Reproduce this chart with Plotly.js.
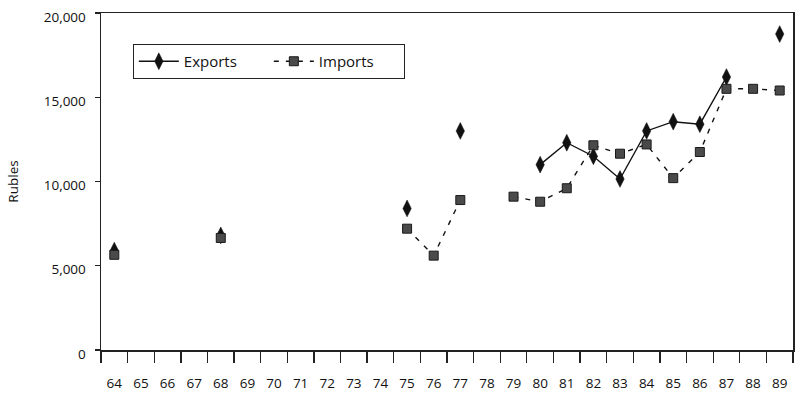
<!DOCTYPE html>
<html>
<head>
<meta charset="utf-8">
<script src="https://cdn.plot.ly/plotly-3.0.1.min.js"></script>
<style>html,body{margin:0;padding:0;background:#fff;}#chart{width:800px;height:398px;}</style>
</head>
<body>
<div id="chart"></div>
<script>
const years = ["64","65","66","67","68","69","70","71","72","73","74","75","76","77","78","79","80","81","82","83","84","85","86","87","88","89"];
const exportsVals = [5900,null,null,null,6800,null,null,null,null,null,null,8400,null,13000,null,null,11000,12300,11500,10150,13000,13550,13400,16200,null,18750];
const importsVals = [5650,null,null,null,6650,null,null,null,null,null,null,7200,5600,8900,null,9100,8800,9600,12150,11650,12200,10200,11750,15500,15500,15400];
const yTickVals = [0,5000,10000,15000,20000];
const yTickText = ["0","5,000","10,000","15,000","20,000"];

const font = "Open Sans, Noto Sans, sans-serif";

const traces = [
  {
    x: years, y: exportsVals, name: "Exports", type: "scatter", mode: "lines+markers",
    connectgaps: false,
    line: {color: "#111", width: 1.4},
    marker: {symbol: "diamond-tall", size: 12, color: "#111", line: {color: "#111", width: 0.5}}
  },
  {
    x: years, y: importsVals, name: "Imports", type: "scatter", mode: "lines+markers",
    connectgaps: false,
    line: {color: "#111", width: 1.4, dash: "5px,7px"},
    marker: {symbol: "square", size: 9, color: "#4a4a4a", line: {color: "#1a1a1a", width: 1}}
  }
];

const layout = {
  width: 800, height: 398,
  margin: {l: 101, r: 7, t: 13, b: 48},
  paper_bgcolor: "#fff", plot_bgcolor: "#fff",
  font: {family: font, size: 13.5, color: "#111"},
  showlegend: true,
  legend: {
    orientation: "h", x: 0.046, y: 0.908, xanchor: "left", yanchor: "top",
    bordercolor: "#222", borderwidth: 1, bgcolor: "#fff",
    font: {family: font, size: 15, color: "#111"},
    entrywidth: 80, itemwidth: 40
  },
  xaxis: {
    type: "category", categoryorder: "array", categoryarray: years,
    range: [-0.5, 25.5],
    tickson: "boundaries", ticks: "outside", ticklen: 11, tickwidth: 1.3, tickcolor: "#222",
    showline: true, linecolor: "#222", linewidth: 1.5, mirror: true,
    showgrid: false, zeroline: false, ticklabelstandoff: 20,
    tickfont: {family: font, size: 13.5, color: "#111"}
  },
  yaxis: {
    range: [0, 20000], tickvals: yTickVals, ticktext: yTickText,
    ticks: "outside", ticklen: 5, tickwidth: 1.3, tickcolor: "#222",
    showline: true, linecolor: "#222", linewidth: 1.5, mirror: true,
    showgrid: false, zeroline: false, ticklabelstandoff: 6, ticklabelshift: 4,
    ticklabeloverflow: "allow",
    tickfont: {family: font, size: 13.5, color: "#111"},
    title: {text: "Rubles", font: {family: font, size: 13.5, color: "#111"}, standoff: 22}
  }
};

Plotly.newPlot("chart", traces, layout, {staticPlot: true, displayModeBar: false});
</script>
</body>
</html>
